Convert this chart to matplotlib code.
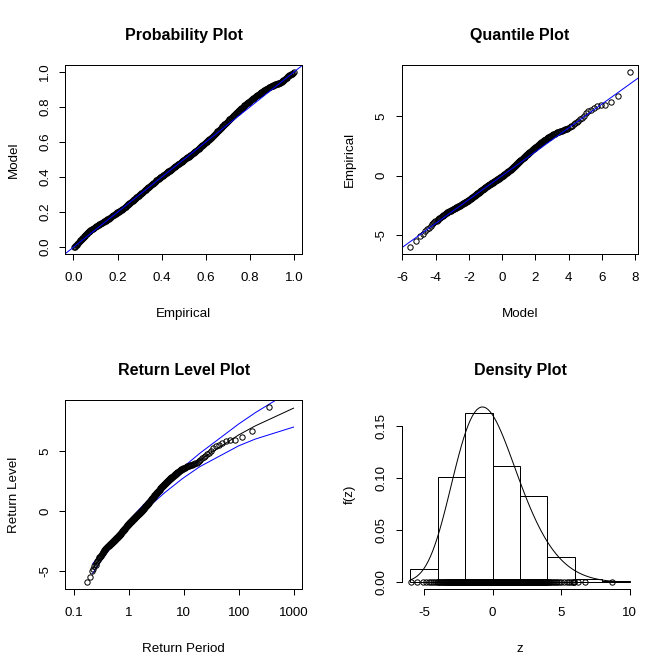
import numpy as np
import matplotlib
matplotlib.use("Agg")
import matplotlib.pyplot as plt

plt.rcParams['font.family'] = ['Liberation Sans', 'DejaVu Sans']

# ---- data: sorted sample ----
sample = [
    -5.98, -5.50, -5.05, -4.85, -4.64, -4.50, -4.35, -4.22, -4.08, -3.98, -3.90, -3.83, -3.76,
    -3.69, -3.63, -3.57, -3.51, -3.46, -3.41, -3.36, -3.31, -3.26, -3.21, -3.17, -3.13,
    -3.11, -3.08, -3.05, -3.02, -3.00, -2.97, -2.95, -2.92, -2.90, -2.88, -2.85, -2.83, -2.81,
    -2.79, -2.77, -2.74, -2.72, -2.70, -2.68, -2.66, -2.64, -2.62, -2.60, -2.58, -2.56,
    -2.55, -2.53, -2.51, -2.49, -2.47, -2.45, -2.43, -2.41, -2.39, -2.37, -2.35, -2.33, -2.31,
    -2.29, -2.28, -2.26, -2.24, -2.22, -2.20, -2.18, -2.17, -2.15, -2.13, -2.11, -2.09,
    -2.08, -2.06, -2.04, -2.02, -2.01, -1.99, -1.97, -1.95, -1.92, -1.90, -1.88, -1.86, -1.84,
    -1.82, -1.80, -1.78, -1.76, -1.74, -1.72, -1.70, -1.68, -1.66, -1.64, -1.62, -1.60,
    -1.58, -1.56, -1.55, -1.53, -1.51, -1.49, -1.47, -1.45, -1.43, -1.41, -1.39, -1.37, -1.35,
    -1.34, -1.32, -1.30, -1.28, -1.26, -1.24, -1.22, -1.21, -1.19, -1.17, -1.15, -1.13,
    -1.11, -1.09, -1.08, -1.06, -1.04, -1.02, -1.00, -0.98, -0.97, -0.95, -0.94, -0.92, -0.90,
    -0.89, -0.87, -0.86, -0.84, -0.82, -0.81, -0.79, -0.78, -0.76, -0.75, -0.73, -0.71,
    -0.70, -0.68, -0.67, -0.65, -0.64, -0.62, -0.60, -0.59, -0.57, -0.56, -0.54, -0.52, -0.51,
    -0.49, -0.48, -0.46, -0.45, -0.43, -0.41, -0.40, -0.38, -0.37, -0.35, -0.33, -0.32,
    -0.30, -0.29, -0.27, -0.25, -0.24, -0.22, -0.21, -0.19, -0.17, -0.16, -0.14, -0.12, -0.11,
    -0.09, -0.07, -0.06, -0.04, -0.02, -0.01, 0.01, 0.03, 0.05, 0.07, 0.09, 0.11,
    0.13, 0.15, 0.17, 0.19, 0.21, 0.23, 0.25, 0.27, 0.29, 0.31, 0.33, 0.35, 0.37, 0.39, 0.41,
    0.43, 0.45, 0.47, 0.49, 0.51, 0.54, 0.56, 0.59, 0.61, 0.64,
    0.67, 0.69, 0.72, 0.74, 0.77, 0.80, 0.82, 0.85, 0.87, 0.90, 0.93, 0.95, 0.98, 1.01, 1.04,
    1.06, 1.09, 1.12, 1.15, 1.17, 1.20, 1.23, 1.26, 1.29, 1.31,
    1.34, 1.37, 1.40, 1.43, 1.46, 1.49, 1.52, 1.55, 1.58, 1.61, 1.64, 1.67, 1.70, 1.73, 1.76,
    1.79, 1.82, 1.85, 1.89, 1.92, 1.95, 1.99, 2.02, 2.05, 2.08,
    2.11, 2.14, 2.17, 2.20, 2.24, 2.27, 2.30, 2.33, 2.37, 2.40, 2.43, 2.47, 2.50, 2.54, 2.58,
    2.61, 2.65, 2.69, 2.72, 2.76, 2.80, 2.84, 2.88, 2.92, 2.96,
    2.99, 3.03, 3.06, 3.10, 3.13, 3.17, 3.21, 3.25, 3.28, 3.32, 3.36, 3.41, 3.44, 3.47, 3.50,
    3.53, 3.56, 3.60, 3.63, 3.67, 3.70, 3.74, 3.77, 3.79, 3.82,
    3.85, 3.88, 3.91, 3.94, 3.97, 4.05, 4.13, 4.21, 4.30, 4.39, 4.49, 4.60, 4.73, 4.86, 5.01,
    5.25, 5.40, 5.55, 5.72, 5.86, 5.93, 5.97, 6.20, 6.72, 8.70,
]

# fitted GEV parameters (location, scale, shape) and their uncertainty
mu, sigma, xi = -1.08, 2.206, -0.143
param_se = [0.13, 0.095, 0.032]
param_corr = [[1.0, 0.35, -0.35], [0.35, 1.0, -0.4], [-0.35, -0.4, 1.0]]

# return-level probabilities (ismev gev.rl)
rl_f = [0.01, 0.02, 0.03, 0.04, 0.05, 0.06, 0.07, 0.08, 0.09, 0.1, 0.2, 0.3, 0.4, 0.5,
        0.6, 0.7, 0.8, 0.9, 0.95, 0.99, 0.995, 0.999]
hist_breaks = [-6, -4, -2, 0, 2, 4, 6, 8, 10]

pp_ticks = [0.0, 0.2, 0.4, 0.6, 0.8, 1.0]
qq_xticks = [-6, -4, -2, 0, 2, 4, 6, 8]
lev_ticks = [-5, 0, 5]
rp_ticks = [0.1, 1, 10, 100, 1000]
rp_labels = ["0.1", "1", "10", "100", "1000"]
dz_xticks = [-5, 0, 5, 10]
dz_yticks = [0.0, 0.05, 0.10, 0.15]

# ---- derived quantities ----
data = np.sort(np.array(sample))
n = len(data)
p = np.arange(1, n + 1) / (n + 1)
qm = mu + sigma * ((-np.log(p)) ** (-xi) - 1) / xi
se = np.array(param_se)
cov = np.array(param_corr) * np.outer(se, se)

W, H = 672, 671
fig = plt.figure(figsize=(W / 96, H / 96), dpi=96)

def axes_px(l, t, r, b):
    return fig.add_axes([l / W, 1 - b / H, (r - l) / W, (b - t) / H])

def rlim(lo, hi):
    r = hi - lo
    return lo - 0.04 * r, hi + 0.04 * r

def rstyle(ax, xt, yt, xtl, ytl, title, xlab, ylab, wpx, hpx):
    ax.set_xticks(xt)
    ax.set_yticks(yt)
    ax.set_xticklabels(xtl)
    ax.set_yticklabels(ytl, rotation=90, va='center')
    ax.minorticks_off()
    ax.tick_params(direction='out', length=4.5, width=0.75, labelsize=10, colors='black')
    ax.tick_params(axis='x', pad=9)
    ax.tick_params(axis='y', pad=6)
    for s in ax.spines.values():
        s.set_linewidth(0.75)
    ax.text(0.5, 1 + 25.3 / hpx, title, transform=ax.transAxes, ha='center', va='baseline',
            fontsize=12, fontweight='bold')
    ax.text(0.5, -62.5 / hpx, xlab, transform=ax.transAxes, ha='center', va='baseline', fontsize=10)
    ax.text(-48.6 / wpx, 0.5, ylab, transform=ax.transAxes, ha='center', va='baseline', fontsize=10,
            rotation=90, rotation_mode='anchor')

mk = dict(linestyle='none', marker='o', markersize=4, markerfacecolor='none',
          markeredgecolor='black', markeredgewidth=0.75)
blue = '#0000FF'

# Probability plot
ax1 = axes_px(65.3, 65, 302.3, 254)
tt = (1 + xi * (data - mu) / sigma) ** (-1 / xi)
Fm = np.exp(-tt)
ax1.plot(p, Fm, **mk)
ax1.axline((0, 0), (1, 1), color=blue, lw=0.75)
ax1.set_xlim(*rlim(p.min(), p.max()))
ax1.set_ylim(*rlim(Fm.min(), Fm.max()))
rstyle(ax1, pp_ticks, pp_ticks, [f"{v:.1f}" for v in pp_ticks], [f"{v:.1f}" for v in pp_ticks],
       "Probability Plot", "Empirical", "Model", 237, 189)

# Quantile plot
ax2 = axes_px(401.7, 65, 638.3, 254)
ax2.plot(qm, data, **mk)
ax2.axline((0, 0), (1, 1), color=blue, lw=0.75)
ax2.set_xlim(*rlim(qm.min(), qm.max()))
ax2.set_ylim(*rlim(data.min(), data.max()))
rstyle(ax2, qq_xticks, lev_ticks, [str(v) for v in qq_xticks], [str(v) for v in lev_ticks],
       "Quantile Plot", "Model", "Empirical", 237, 189)

# Return level plot
ax3 = axes_px(65.3, 400, 302.3, 589.3)
f = np.array(rl_f)
yp = -1 / np.log(f)
rl = mu + sigma * (yp ** xi - 1) / xi
g = np.vstack([np.ones_like(yp), (yp ** xi - 1) / xi,
               sigma * (yp ** xi * np.log(yp) / xi - (yp ** xi - 1) / xi ** 2)])
v = np.einsum('ik,ij,jk->k', g, cov, g)
ax3.set_xscale('log')
ax3.plot(yp, rl, color='black', lw=0.75)
ax3.plot(yp, rl + 1.96 * np.sqrt(v), color=blue, lw=0.75)
ax3.plot(yp, rl - 1.96 * np.sqrt(v), color=blue, lw=0.75)
ax3.plot(-1 / np.log(p), data, **mk)
ax3.set_xlim(10 ** -1.16, 10 ** 3.16)
ax3.set_ylim(*rlim(min(data.min(), rl.min()), max(data.max(), rl.max())))
rstyle(ax3, rp_ticks, lev_ticks, rp_labels, [str(v) for v in lev_ticks],
       "Return Level Plot", "Return Period", "Return Level", 237, 189.3)

# Density plot
ax4 = axes_px(401.7, 400, 638.3, 589.3)
breaks = np.array(hist_breaks, dtype=float)
idx = np.searchsorted(breaks, data, side='left')
idx[idx == 0] = 1
counts = np.bincount(idx, minlength=len(breaks))[1:]
dens = counts / (n * np.diff(breaks))
ax4.bar(breaks[:-1], dens, width=np.diff(breaks), align='edge', fill=False,
        edgecolor='black', linewidth=0.75)
xx = np.linspace(breaks.min(), breaks.max(), 100)
tx = (1 + xi * (xx - mu) / sigma) ** (-1 / xi)
fd = tx ** (xi + 1) * np.exp(-tx) / sigma
ax4.plot(xx, fd, color='black', lw=0.75)
ax4.plot(data, np.zeros(n), **mk)
M = max(dens.max(), fd.max())
ax4.set_xlim(*rlim(breaks.min(), breaks.max()))
ax4.set_ylim(-0.04 * M, 1.04 * M)
rstyle(ax4, dz_xticks, dz_yticks, [str(v) for v in dz_xticks], [f"{v:.2f}" for v in dz_yticks],
       "Density Plot", "z", "f(z)", 237, 189.3)
ax4.spines['top'].set_visible(False)
ax4.spines['right'].set_visible(False)
ax4.spines['left'].set_bounds(dz_yticks[0], dz_yticks[-1])
ax4.spines['bottom'].set_bounds(dz_xticks[0], dz_xticks[-1])

fig.savefig('out.png', dpi=96)
